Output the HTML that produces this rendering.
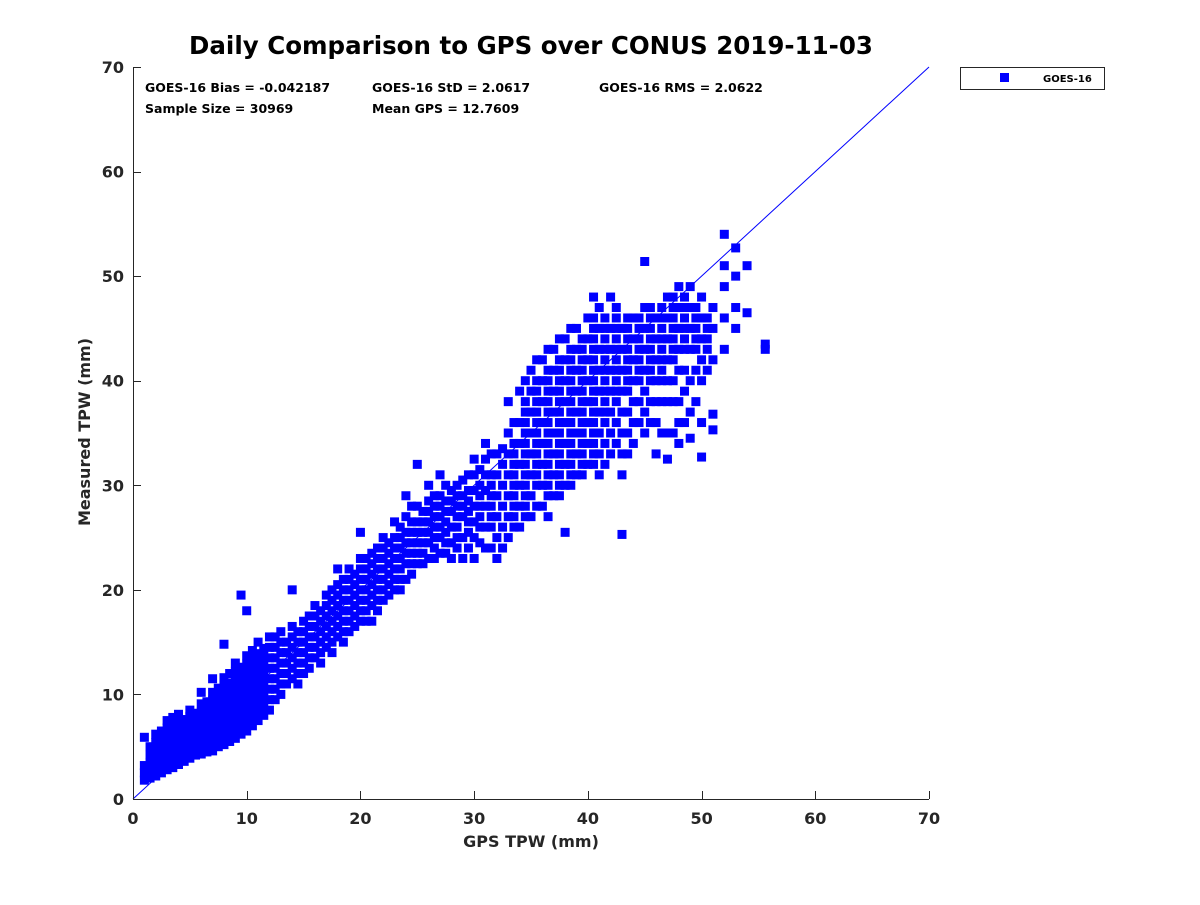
<!DOCTYPE html>
<html><head><meta charset="utf-8"><style>
body{margin:0;background:#fff;}
svg text{font-family:"DejaVu Sans","Liberation Sans",sans-serif;font-weight:bold;fill:#262626;}
</style></head><body>
<svg id="chart" width="1200" height="900" viewBox="0 0 1200 900" xmlns="http://www.w3.org/2000/svg">
<rect width="1200" height="900" fill="#fff"/>
<text x="531" y="54" text-anchor="middle" font-size="24.5" style="fill:#000">Daily Comparison to GPS over CONUS 2019-11-03</text>
<g id="plot"></g>
<g font-size="12.5">
<text x="145" y="92" style="fill:#000">GOES-16 Bias = -0.042187</text>
<text x="372" y="92" style="fill:#000">GOES-16 StD = 2.0617</text>
<text x="599" y="92" style="fill:#000">GOES-16 RMS = 2.0622</text>
<text x="145" y="113" style="fill:#000">Sample Size = 30969</text>
<text x="372" y="113" style="fill:#000">Mean GPS = 12.7609</text>
</g>
<g>
<rect x="960.5" y="67.5" width="144" height="22" fill="#fff" stroke="#262626" stroke-width="1"/>
<rect x="1000" y="73" width="9" height="9" fill="#0000ff"/>
<text x="1043" y="82" font-size="10" style="fill:#000">GOES-16</text>
</g>
<text x="531" y="847" text-anchor="middle" font-size="16">GPS TPW (mm)</text>
<text transform="translate(90,432) rotate(-90)" text-anchor="middle" font-size="16">Measured TPW (mm)</text>
</svg>
<script>
const xTicks=[0,10,20,30,40,50,60,70];
const yTicks=[0,10,20,30,40,50,60,70];
const gpsBins=[1,1.5,2,2.5,3,3.5,4,4.5,5,5.5,6,6.5,7,7.5,8,8.5,9,9.5,10,10.5,11,11.5,12,12.5,13,13.5,14,15,16,17,18,19,20,21,22,23,24,25,26,27,28,29,30,31,32,33,34,35,36,37,38,39,40,41,42,43,44,45,46,47,48,49,50,51,52,53,54,55.6];
const measuredByBin=[
[1.8,2.5,3.2,5.9],[2,2.8,3.5,4.2,5],[2.2,3,3.8,4.6,5.4,6.2],[2.5,3.3,4.1,4.9,5.7,6.5],
[2.8,3.6,4.4,5.2,6,6.8,7.5],[3,3.8,4.6,5.4,6.2,7,7.8],[3.3,4.1,4.9,5.7,6.5,7.3,8.1],[3.6,4.4,5.2,6,6.8,7.6],
[3.9,4.7,5.5,6.3,7.1,7.9,8.5],[4.2,5,5.8,6.6,7.4,8.2],[4.3,5.1,5.9,6.7,7.5,8.3,9.1,10.2],[4.5,5.3,6.1,6.9,7.7,8.5,9.3],
[4.6,5.4,6.2,7,7.8,8.6,9.4,10.2,11.5],[5,5.8,6.6,7.4,8.2,9,9.8,10.6],[5.2,6,6.8,7.6,8.4,9.2,10,10.8,11.6,14.8],
[5.5,6.3,7.1,7.9,8.7,9.5,10.3,11.1,12],[5.8,6.6,7.4,8.2,9,9.8,10.6,11.4,12.2,13],[6.2,7,7.8,8.6,9.4,10.2,11,11.8,12.6,19.5],
[6.5,7.3,8.1,8.9,9.7,10.5,11.3,12.1,12.9,13.7,18],[7,7.8,8.6,9.4,10.2,11,11.8,12.6,13.4,14.2],[7.5,8.3,9.1,9.9,10.7,11.5,12.3,13.1,13.9,15],
[8,8.8,9.6,10.4,11.2,12,12.8,13.6,14.4],[8.5,9.5,10.5,11.5,12.5,13.5,14.5,15.5],[9.5,10.5,11.5,12.5,13.5,14.5,15.5],
[10,11,12,13,14,15,16],[11,12,13,14,15],[11.5,12.5,13.5,14.5,15.5,16.5,20],[12,13,14,15,16,17],
[13.5,14.5,15.5,16.5,17.5,18.5],[14.5,15.5,16.5,17.5,18.5,19.5],[15.5,16.5,17.5,18.5,19.5,20.5,22],[16,17,18,19,20,21,22],
[17,18,19,20,21,22,23,25.5],[17,18.5,19.5,20.5,21.5,22.5,23.5],[19,20,21,22,23,24,25],[20,21,22,23,24,25,26.5],
[21,22.5,23.5,24.5,25.5,27,29],[22.5,23.5,24.5,25.5,26.5,28,32],[23,24.5,25.5,26.5,27.5,28.5,30],[23.5,25,26,27,28,29,31],
[23,24.5,26,27.5,28.5,29.5],[23,25,27,28,29,30.5],[23,25,26.5,28,29.5,31,32.5],[24,26,28,29.5,31,32.5,34],
[23,25,27,29,31,33],[25,27,29,31,33,35,38],[26,28,30,32,34,36,39],[27,29,31,33,35,37,39,41],
[28,30,32,34,36,38,40,42],[29,31,33,35,37,39,41,43],[25.5,30,32,34,36,38,40,42,44],[31,33,35,37,39,41,43,45],
[32,34,36,38,40,42,44,46],[31,33,35,37,39,41,43,45,47],[33,35,37,39,41,43,45,48],[25.3,31,33,35,37,39,41,43,45],
[34,36,38,40,42,44,46],[35,37,39,41,43,45,47,51.4],[33,36,38,40,42,44,46],[32.5,35,38,40,42,44,46,48],
[34,36,38,41,43,45,47,49],[34.5,37,40,43,45,47,49],[32.7,36,40,42,44,46,48],[35.3,36.8,42,45,47],
[43,46,49,51,54],[45,47,50,52.7],[46.5,51],[43.5,43]
];
const gpsBinsHalf=[14.5,15.5,16.5,17.5,18.5,19.5,20.5,21.5,22.5,23.5,24.5,25.5,26.5,27.5,28.5,29.5,30.5,31.5,32.5,33.5,34.5,35.5,36.5,37.5,38.5,39.5,40.5,41.5,42.5,43.5,44.5,45.5,46.5,47.5,48.5,49.5,50.5];
const measuredByBinHalf=[
[11,12,13,14,15,16],[12.5,13.5,14.5,15.5,16.5,17.5],[13,14,15,16,17,18],[14,15,16,17,18,19,20],
[15,16,17,18,19,20,21],[16.5,17.5,18.5,19.5,20.5,21.5],[17,18,19,20,21,22,23],[18,19,20,21,22,23,24],
[19.5,20.5,21.5,22.5,23.5,24.5],[20,21,22,23,24,25,26],[21.5,22.5,23.5,24.5,25.5,26.5,28],[22.5,23.5,24.5,25.5,26.5,27.5],
[23,24,25,26,27,28,29],[23.5,24.5,25.5,26.5,27.5,28.5,30],[24,25,26,27,28,29,30],[24,25.5,26.5,27.5,28.5,29.5,31],
[24.5,26,27,28,29,30,31.5],[24,26,27,28,29,30,31,33],[24,26,28,30,32,33.5],[26,27,28,29,30,31,32,33,34,36],
[27,28,29,30,31,32,33,34,35,36,37,38,40],[28,30,31,32,33,34,35,36,37,38,39,40,42],
[27,29,30,31,32,33,34,35,36,37,38,39,40,41,43],[29,30,31,32,33,34,35,36,37,38,39,40,41,42,44],
[30,31,32,33,34,35,36,37,38,39,40,41,42,43,45],[31,32,33,34,35,36,37,38,39,40,41,42,43,44],
[32,33,34,35,36,37,38,39,40,41,42,43,44,45,46,48],[32,34,36,37,38,39,40,41,42,43,44,45,46],
[34,36,38,39,40,41,42,43,44,45,46,47],[33,35,37,39,40,41,42,43,44,45,46],[36,38,40,41,42,43,44,45,46],
[36,38,40,41,42,43,44,45,46,47],[35,38,40,41,42,43,44,45,46,47],[35,38,40,42,43,44,45,46,47,48],
[36,39,41,43,44,45,46,47,48],[38,41,43,44,45,46,47],[41,43,44,45,46]
];
const X0=133,X1=929,Y0=799,Y1=67,XMAX=70,YMAX=70;
const sx=v=>X0+(X1-X0)*v/XMAX;
const sy=v=>Y0-(Y0-Y1)*v/YMAX;
const NS="http://www.w3.org/2000/svg";
const plot=document.getElementById('plot');
function mk(t,a){const e=document.createElementNS(NS,t);for(const k in a)e.setAttribute(k,a[k]);plot.appendChild(e);return e;}
const pts=mk('g',{});


function drawBins(bins,vals){
  bins.forEach((g,i)=>{vals[i].forEach(m=>{
    const r=document.createElementNS(NS,'rect');
    r.setAttribute('x',sx(g)-4.5);r.setAttribute('y',sy(m)-4.5);
    r.setAttribute('width',9);r.setAttribute('height',9);r.setAttribute('fill','#0000ff');
    
    
    pts.appendChild(r);});});
}
drawBins(gpsBins,measuredByBin);
drawBins(gpsBinsHalf,measuredByBinHalf);
const ol=mk('line',{x1:sx(0),y1:sy(0),x2:sx(70),y2:sy(70),stroke:'#0000ff','stroke-width':1});


const xa=mk('line',{x1:X0,y1:Y0+0.5,x2:X1,y2:Y0+0.5,stroke:'#262626','stroke-width':1});


const ya=mk('line',{x1:X0+0.5,y1:Y0,x2:X0+0.5,y2:Y1,stroke:'#262626','stroke-width':1});


xTicks.forEach(t=>{
  const x=Math.round(sx(t))+0.5;
  mk('line',{x1:x,y1:Y0,x2:x,y2:Y0-8,stroke:'#262626'});
  const tx=mk('text',{x:sx(t),y:Y0+25,'text-anchor':'middle','font-size':16});
  tx.textContent=t;
  
  
});
yTicks.forEach(t=>{
  const y=Math.round(sy(t))+0.5;
  mk('line',{x1:X0,y1:y,x2:X0+8,y2:y,stroke:'#262626'});
  const tx=mk('text',{x:X0-9,y:sy(t)+6,'text-anchor':'end','font-size':16});
  tx.textContent=t;
  
  
});
</script>
</body></html>
